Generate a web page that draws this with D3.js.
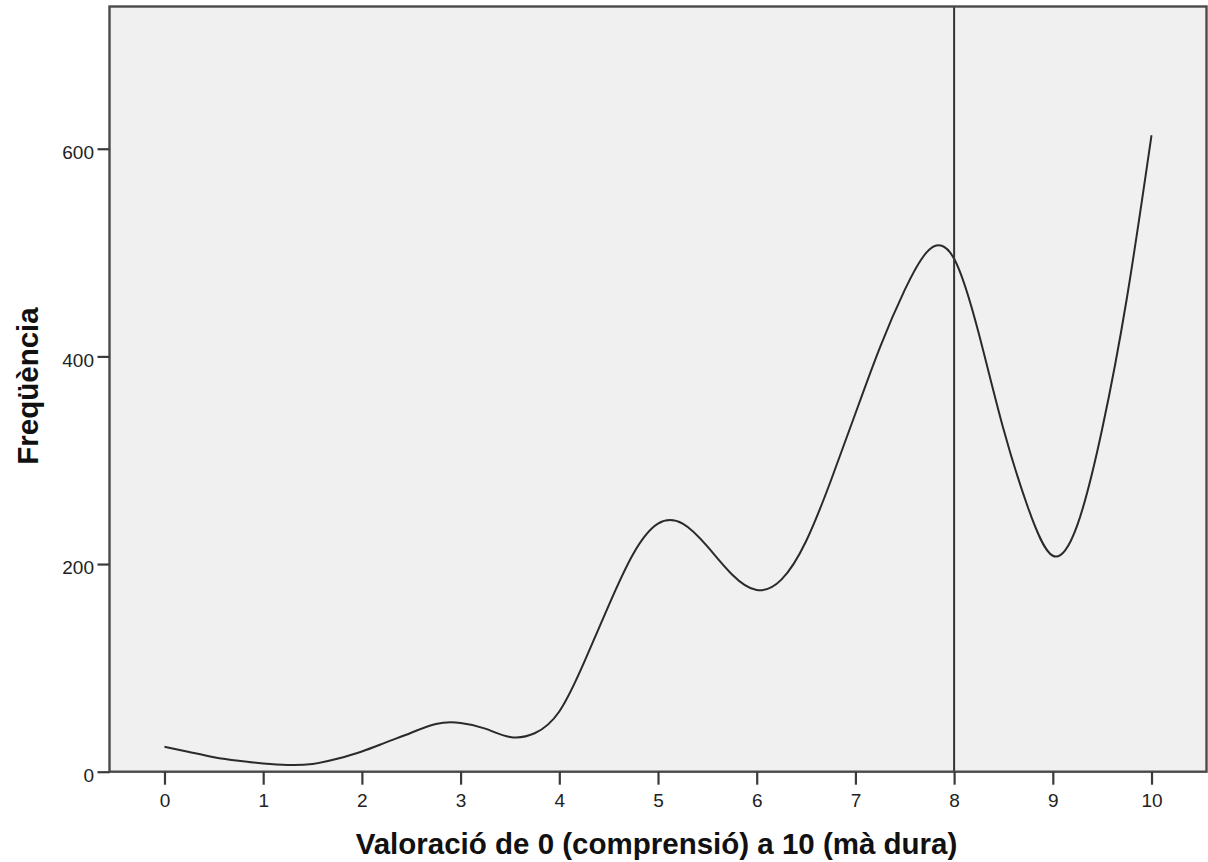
<!DOCTYPE html>
<html>
<head>
<meta charset="utf-8">
<script src="https://cdn.jsdelivr.net/npm/d3@7"></script>
<style>
  html, body { margin: 0; padding: 0; background: #ffffff; }
  svg { display: block; }
  text { font-family: "Liberation Sans", Arial, sans-serif; }
</style>
</head>
<body>
<svg id="chart" width="1208" height="862"></svg>
<script>
// ---- data (every 0.25 on the x axis) ----
const xValues = [0, 0.25, 0.5, 0.75, 1, 1.25, 1.5, 1.75, 2, 2.25, 2.5, 2.75, 3, 3.25, 3.5, 3.75,
                 4, 4.25, 4.5, 4.75, 5, 5.25, 5.5, 5.75, 6, 6.25, 6.5, 6.75, 7, 7.25, 7.5, 7.75,
                 8, 8.25, 8.5, 8.75, 9, 9.25, 9.5, 9.75, 10];
const frequencies = [24, 19, 14, 10.5, 8, 6.5, 7.5, 12.5, 19.5, 28.5, 37.5, 46, 47, 41.5, 33.5, 37,
                     58, 105, 160, 210, 239, 239, 217, 190, 175, 185, 222, 280, 345, 409, 464, 503,
                     494, 422, 330, 254, 208, 238, 330, 456, 613];
const xTickValues = [0, 1, 2, 3, 4, 5, 6, 7, 8, 9, 10];
const yTickValues = [0, 200, 400, 600];
const referenceLineX = [8];
const xTitle = "Valoració de 0 (comprensió) a 10 (mà dura)";
const yTitle = "Freqüència";

// ---- layout ----
const plot = { left: 109.5, right: 1206.5, top: 6.5, bottom: 771.7 };
const svg = d3.select("#chart");

const x = d3.scaleLinear().domain([-0.557, 10.557]).range([plot.left, plot.right]);
const y = d3.scaleLinear().domain([0, 737]).range([plot.bottom, plot.top]);

// background
svg.append("rect")
  .attr("x", plot.left).attr("y", plot.top)
  .attr("width", plot.right - plot.left).attr("height", plot.bottom - plot.top)
  .attr("fill", "#f0f0f0");

// curve
const pts = xValues.map((v, i) => [v, frequencies[i]]);
const line = d3.line().x(d => x(d[0])).y(d => y(d[1])).curve(d3.curveNatural);
svg.append("path")
  .datum(pts)
  .attr("d", line)
  .attr("fill", "none")
  .attr("stroke", "#2a2a2a")
  .attr("stroke-width", 2);

// reference line
svg.selectAll(".refline").data(referenceLineX).enter().append("line")
  .attr("class", "refline")
  .attr("x1", d => x(d)).attr("x2", d => x(d))
  .attr("y1", plot.top).attr("y2", plot.bottom)
  .attr("stroke", "#333333").attr("stroke-width", 2);

// frame
svg.append("rect")
  .attr("x", plot.left).attr("y", plot.top)
  .attr("width", plot.right - plot.left).attr("height", plot.bottom - plot.top)
  .attr("fill", "none")
  .attr("stroke", "#4a4a4a").attr("stroke-width", 2.4);

// x axis
const xAxis = d3.axisBottom(x).tickValues(xTickValues).tickSize(13).tickPadding(9).tickSizeOuter(0)
  .tickFormat(d3.format("d"));
const gx = svg.append("g").attr("transform", `translate(0,${plot.bottom})`).call(xAxis);
gx.select(".domain").remove();
gx.selectAll(".tick line").attr("stroke", "#3a3a3a").attr("stroke-width", 2.2);
gx.selectAll(".tick text").attr("fill", "#222").style("font-size", "19px");

// y axis
const yAxis = d3.axisLeft(y).tickValues(yTickValues).tickSize(12).tickPadding(3.5).tickSizeOuter(0)
  .tickFormat(d3.format("d"));
const gy = svg.append("g").attr("transform", `translate(${plot.left},0)`).call(yAxis);
gy.select(".domain").remove();
gy.selectAll(".tick line").attr("stroke", "#3a3a3a").attr("stroke-width", 2.2);
gy.selectAll(".tick text").attr("fill", "#222").attr("dy", "0.52em").style("font-size", "19px");

// titles
svg.append("text")
  .attr("x", (plot.left + plot.right) / 2 - 1.5)
  .attr("y", 854)
  .attr("text-anchor", "middle")
  .style("font-size", "29.5px").style("font-weight", "bold").attr("fill", "#111")
  .text(xTitle);

svg.append("text")
  .attr("transform", `translate(37.5,386) rotate(-90)`)
  .attr("text-anchor", "middle")
  .style("font-size", "29.5px").style("font-weight", "bold").attr("fill", "#111")
  .text(yTitle);
</script>
</body>
</html>
